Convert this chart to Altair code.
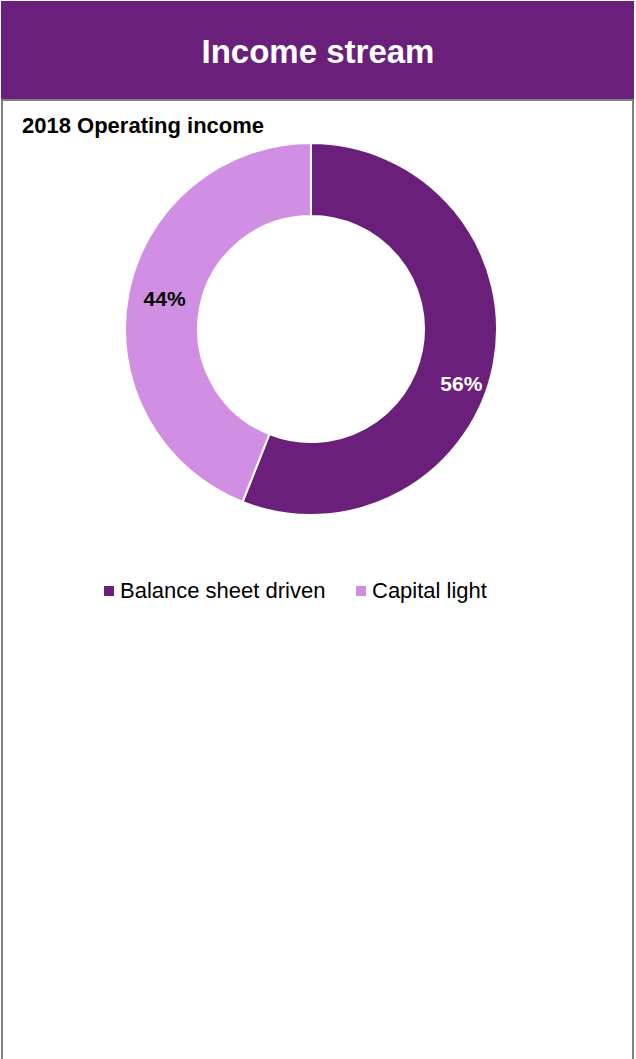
import altair as alt
import pandas as pd

categories = ["Balance sheet driven", "Capital light"]
values = [56, 44]
labels = ["56%", "44%"]
colors = ["#6A1F7A", "#D18FE3"]
label_colors = ["#FFFFFF", "#000000"]

df = pd.DataFrame({"category": categories, "value": values, "label": labels,
                   "order": [0, 1]})

W, H = 636, 1059
CX, CY = 311, 329

base = alt.Chart(df)

# frame / header
one = pd.DataFrame({"k": [0]})
header = alt.Chart(one).mark_rect(color="#6A1F7A").encode(
    x=alt.value(1), x2=alt.value(634), y=alt.value(1), y2=alt.value(99))
frame = alt.Chart(one).mark_rect(fill="white", stroke="#808080", strokeWidth=2).encode(
    x=alt.value(2), x2=alt.value(633), y=alt.value(100), y2=alt.value(1070))
title = alt.Chart(one).mark_text(text="Income stream", font="Liberation Sans",
                                 fontWeight="bold", fontSize=33, color="white",
                                 align="center", baseline="middle").encode(
    x=alt.value(318), y=alt.value(53))
subtitle = alt.Chart(one).mark_text(text="2018 Operating income", font="Liberation Sans",
                                    fontWeight="bold", fontSize=22, color="black",
                                    align="left", baseline="alphabetic").encode(
    x=alt.value(22), y=alt.value(133))

color_scale = alt.Scale(domain=categories, range=colors)

arc = base.mark_arc(x=CX, y=CY, outerRadius=186, innerRadius=113,
                    stroke="white", strokeWidth=2).encode(
    theta=alt.Theta("value:Q", stack=True),
    order=alt.Order("order:Q"),
    color=alt.Color("category:N", scale=color_scale, sort=categories,
                    legend=alt.Legend(title=None, orient="none", legendX=98, legendY=580,
                                      direction="horizontal", symbolType="square",
                                      symbolSize=100, symbolStrokeWidth=0,
                                      labelFont="Liberation Sans", labelFontSize=22,
                                      labelColor="#000000", labelOffset=0,
                                      columnPadding=24, labelLimit=400)),
)

def label_layer(cat, dx, dy):
    return base.transform_filter(alt.datum.category == cat).mark_text(
        x=CX, y=CY, radius=149, dx=dx, dy=dy, font="Liberation Sans",
        fontWeight="bold", fontSize=21, align="center", baseline="middle").encode(
        theta=alt.Theta("value:Q", stack=True),
        order=alt.Order("order:Q"),
        text="label:N",
        color=alt.Color("category:N",
                        scale=alt.Scale(domain=categories, range=label_colors),
                        legend=None),
    )

# stack must be over full data: compute stacked angles before filtering
def label_layer_full(cat, dx, dy):
    return base.transform_joinaggregate(total="sum(value)").transform_window(
        cum="sum(value)", sort=[alt.SortField("order")]).transform_calculate(
        mid="(datum.cum - datum.value / 2) / datum.total * 2 * PI"
    ).transform_filter(alt.datum.category == cat).mark_text(
        x=CX, y=CY, radius=149, dx=dx, dy=dy, font="Liberation Sans",
        fontWeight="bold", fontSize=21, align="center", baseline="middle").encode(
        theta=alt.Theta("mid:Q", scale=None),
        text="label:N",
        color=alt.Color("category:N",
                        scale=alt.Scale(domain=categories, range=label_colors),
                        legend=None),
    )

t1 = label_layer_full("Balance sheet driven", 4, 28)
t2 = label_layer_full("Capital light", 0, -1)

chart = alt.layer(frame, header, title, subtitle, arc, t1, t2).resolve_scale(
    color="independent").properties(
    width=W, height=H, padding=0, autosize=alt.AutoSizeParams(type="none")
).configure_view(stroke=None)

chart.save("out.html", embed_options={"renderer": "svg", "actions": False})
